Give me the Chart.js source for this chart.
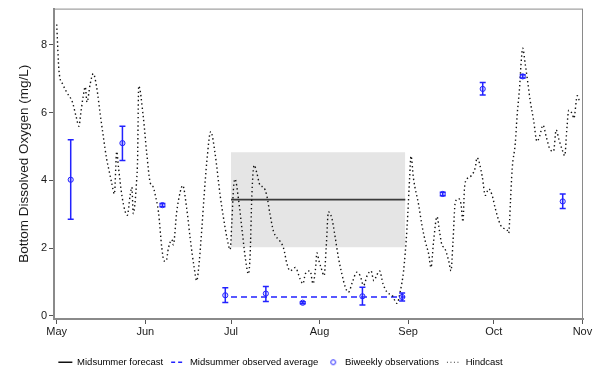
<!DOCTYPE html>
<html>
<head>
<meta charset="utf-8">
<script src="https://cdn.jsdelivr.net/npm/chart.js@4.4.0/dist/chart.umd.min.js"></script>
<style>
  html, body { margin: 0; padding: 0; background: #fff; }
</style>
</head>
<body>
<canvas id="grafico" width="600" height="374"></canvas>
<script>
// Days counted from May 1
const monthTicks = [0, 31, 61, 92, 123, 153, 184];
const monthLabels = ['May', 'Jun', 'Jul', 'Aug', 'Sep', 'Oct', 'Nov'];
const yTicks = [0, 2, 4, 6, 8];

// Hindcast (dotted line)
const hindcastDays = [0, 0.8, 2.1, 3.5, 5.5, 6.8, 7.8, 8.4, 9.3, 10, 10.6, 11.7, 12.8, 14, 15.2, 16.3, 17.5, 18.3, 19.3, 20.2,
  21, 21.6, 22.8, 24, 24.7, 25.7, 26.3, 26.8, 28, 28.3, 28.7, 30.3, 31.5, 32.7, 33.8, 34.4, 35.6, 36.8, 37.6, 38.3,
  39.1, 40.3, 40.8, 42, 43.2, 44.1, 45.5, 46.7, 48.1, 49, 49.9, 50.8, 51.6, 52.5, 53.9, 55.4, 57.2, 58.4, 59.6, 60.7,
  61.3, 61.9, 62.4, 63.6, 64.8, 66, 67.1, 67.7, 68.3, 69.1, 70, 71.2, 72.4, 73.5, 74.7, 75.9, 78.2, 79.4, 80.6, 81.7,
  83.5, 85.2, 86.2, 87, 88.7, 89.7, 90.5, 91.1, 91.8, 92.5, 93.6, 94.3, 95.1, 96.3, 97.5, 98.6, 99.8, 101, 102.1, 103.5,
  105, 106.2, 107.4, 108.7, 110, 111, 112, 113, 114.2, 115.6, 117.4, 119.1, 120.3, 121.4, 122.6, 123.5, 124, 124.9, 126.7, 127.8,
  129, 130.2, 131, 131.9, 133.1, 134, 134.8, 135.8, 137.2, 138, 138.7, 139.5, 140.7, 141.5, 142.2, 142.7, 143.6, 145, 146.5, 147.1,
  148.9, 150, 151.2, 152.4, 153.5, 155.3, 156.4, 157.6, 158.2, 158.8, 159.4, 160.5, 161.1, 162, 162.5, 163.1, 164, 164.8, 165.7, 166.9,
  168.1, 169, 170.2, 171.3, 172.7, 173.9, 174.8, 175.8, 176.9, 177.8, 178.6, 179.2, 180.4, 181, 182.2, 182.9];
const hindcastVals = [8.6, 7.23, 6.84, 6.6, 6.31, 5.88, 5.6, 5.97, 6.5, 6.76, 6.31, 6.84, 7.15, 6.74, 5.97, 5.3, 4.62, 4.3, 3.9, 3.6,
  4.85, 4.4, 3.56, 3.07, 2.97, 3.56, 3.8, 3.02, 4.04, 4.6, 6.79, 5.87, 4.81, 3.94, 3.8, 3.6, 3.07, 2.0, 1.62, 1.62,
  2.0, 2.25, 2.1, 3.07, 3.65, 3.85, 3.17, 2.3, 1.43, 1.04, 1.62, 2.59, 3.56, 4.52, 5.44, 4.81, 3.56, 2.88, 2.3, 1.96,
  2.78, 3.8, 4.04, 3.46, 2.59, 1.72, 1.24, 1.81, 3.56, 4.45, 4.23, 3.85, 3.8, 3.56, 2.98, 2.49, 2.2, 2.0, 1.53, 1.33,
  1.43, 1.09, 0.95, 1.24, 1.33, 0.95, 1.33, 1.86, 1.62, 1.43, 1.19, 2.0, 3.07, 2.88, 2.3, 1.72, 1.24, 0.85, 0.7, 1.0,
  1.29, 1.19, 0.9, 1.2, 1.33, 1.04, 1.2, 1.33, 0.95, 0.7, 0.61, 0.37, 0.75, 1.33, 2.59, 4.04, 4.72, 4.04, 3.27, 2.69,
  2.2, 1.82, 1.43, 2.2, 2.93, 2.49, 2.1, 2.0, 1.62, 1.33, 2.2, 3.36, 3.46, 3.3, 2.78, 3.75, 4.04, 4.13, 4.38, 4.67,
  4.13, 3.56, 3.75, 3.56, 3.17, 2.69, 2.59, 2.54, 2.44, 3.36, 4.33, 5.1, 5.87, 6.74, 7.42, 7.9, 7.42, 6.94, 6.36, 5.78,
  5.15, 5.3, 5.63, 5.3, 4.91, 4.86, 5.49, 5.2, 4.91, 4.73, 5.58, 6.07, 5.97, 5.83, 6.5, 6.36];

// Biweekly observations with error bars
const obsDays = [4.9, 23, 37, 59, 73.2, 86.1, 107, 120.9, 135.1, 149.1, 163.1, 177.1];
const obsMean = [4.02, 5.1, 3.27, 0.61, 0.66, 0.39, 0.58, 0.56, 3.6, 6.7, 7.07, 3.38];
const obsLow = [2.85, 4.59, 3.22, 0.40, 0.43, 0.36, 0.32, 0.44, 3.55, 6.52, 7.02, 3.17];
const obsHigh = [5.2, 5.6, 3.32, 0.83, 0.87, 0.42, 0.85, 0.68, 3.65, 6.89, 7.12, 3.6];

// Midsummer forecast and observed average (Jul 1 - Aug 31)
const midsummerDays = [61, 122];
const forecastMean = [3.43, 3.43];
const forecastLow = [2.03, 2.03];
const forecastHigh = [4.83, 4.83];
const observedAverage = [0.56, 0.56];

const azul = '#2222ff';

function puntos(dias, valores) {
  return dias.map((d, i) => ({ x: d, y: valores[i] }));
}

// small circle used as legend symbol
const circuloLeyenda = document.createElement('canvas');
circuloLeyenda.width = 8;
circuloLeyenda.height = 8;
const cc = circuloLeyenda.getContext('2d');
cc.strokeStyle = azul;
cc.lineWidth = 1;
cc.beginPath();
cc.arc(4, 4, 2.4, 0, 2 * Math.PI);
cc.stroke();

// error bars drawn from the scales
const barrasError = {
  id: 'barrasError',
  afterDatasetsDraw(chart) {
    const { ctx, scales: { x, y } } = chart;
    ctx.save();
    ctx.strokeStyle = azul;
    ctx.lineWidth = 1.5;
    obsDays.forEach((d, i) => {
      const px = x.getPixelForValue(d);
      const arriba = y.getPixelForValue(obsHigh[i]);
      const abajo = y.getPixelForValue(obsLow[i]);
      ctx.beginPath();
      ctx.moveTo(px, arriba); ctx.lineTo(px, abajo);
      ctx.moveTo(px - 3, arriba); ctx.lineTo(px + 3, arriba);
      ctx.moveTo(px - 3, abajo); ctx.lineTo(px + 3, abajo);
      ctx.stroke();
    });
    ctx.restore();
  }
};

// frame round the plot area, and legend shift
const marco = {
  id: 'marco',
  beforeDraw(chart) {
    chart.legend.left -= 11;
    chart.legend.right -= 11;
    chart.legend.top += 3;
  },
  afterDraw(chart) {
    const { ctx, chartArea: a } = chart;
    ctx.save();
    ctx.strokeStyle = '#8a8a8a';
    ctx.lineWidth = 1;
    ctx.strokeRect(a.left, a.top + 0.5, a.right - a.left - 0.5, a.bottom - a.top);
    ctx.restore();
    chart.legend.left += 11;
    chart.legend.right += 11;
    chart.legend.top -= 3;
  }
};

new Chart(document.getElementById('grafico'), {
  type: 'line',
  data: {
    datasets: [
      {
        label: 'band high', data: puntos(midsummerDays, forecastHigh),
        borderWidth: 0, pointRadius: 0, fill: '+1', backgroundColor: '#e5e5e5', order: 10
      },
      {
        label: 'band low', data: puntos(midsummerDays, forecastLow),
        borderWidth: 0, pointRadius: 0, fill: false, order: 11
      },
      {
        label: 'Midsummer forecast', data: puntos(midsummerDays, forecastMean),
        borderColor: '#3a3a3a', borderWidth: 1.8, pointRadius: 0, fill: false, order: 5
      },
      {
        label: 'Midsummer observed average', data: puntos(midsummerDays, observedAverage),
        borderColor: azul, borderWidth: 1.5, borderDash: [6, 4], pointRadius: 0, fill: false, order: 4
      },
      {
        label: 'Hindcast', data: puntos(hindcastDays, hindcastVals),
        borderColor: '#111', borderWidth: 1.4, borderDash: [1.4, 2.8], pointRadius: 0,
        cubicInterpolationMode: 'monotone', fill: false, order: 3
      },
      {
        label: 'Biweekly observations', data: puntos(obsDays, obsMean),
        showLine: false, pointRadius: 2.6, pointBorderWidth: 1, pointBorderColor: azul,
        pointBackgroundColor: 'rgba(80,80,255,0.2)', order: 1
      }
    ]
  },
  options: {
    responsive: false,
    animation: false,
    layout: { padding: { top: 3, right: 17, left: 0, bottom: 0 } },
    plugins: {
      tooltip: { enabled: false },
      legend: {
        position: 'bottom',
        labels: {
          usePointStyle: true,
          pointStyleWidth: 14,
          padding: 8,
          color: '#1a1a1a',
          font: { family: 'Liberation Sans, Arial, sans-serif', size: 9.5 },
          generateLabels: () => [
            { text: 'Midsummer forecast', pointStyle: 'line', strokeStyle: '#111', lineWidth: 1.5, lineDash: [], datasetIndex: 2 },
            { text: 'Midsummer observed average', pointStyle: 'line', strokeStyle: azul, lineWidth: 1.5, lineDash: [4, 3], datasetIndex: 3 },
            { text: 'Biweekly observations', pointStyle: circuloLeyenda, strokeStyle: azul, lineWidth: 1, lineDash: [], datasetIndex: 5 },
            { text: 'Hindcast', pointStyle: 'line', strokeStyle: '#333', lineWidth: 1, lineDash: [1, 2.5], datasetIndex: 4 }
          ]
        }
      }
    },
    scales: {
      x: {
        type: 'linear',
        min: -0.95,
        max: 184.2,
        afterBuildTicks: (scale) => { scale.ticks = monthTicks.map(v => ({ value: v })); },
        afterFit: (scale) => { scale.height = 55 - scale.chart.legend.height; },
        ticks: {
          autoSkip: false, maxRotation: 0, padding: 1, color: '#1a1a1a',
          font: { family: 'Liberation Sans, Arial, sans-serif', size: 11 },
          callback: (v) => { const i = monthTicks.indexOf(v); return i >= 0 ? monthLabels[i] : ''; }
        },
        grid: { drawOnChartArea: false, drawTicks: true, tickLength: 5, color: '#555' },
        border: { color: '#8a8a8a', width: 2 }
      },
      y: {
        min: -0.09,
        max: 9.07,
        afterBuildTicks: (scale) => { scale.ticks = yTicks.map(v => ({ value: v })); },
        afterFit: (scale) => { scale.width = 54; },
        ticks: {
          padding: 2, color: '#1a1a1a',
          font: { family: 'Liberation Sans, Arial, sans-serif', size: 11 }
        },
        grid: { drawOnChartArea: false, drawTicks: true, tickLength: 5, color: '#555' },
        border: { color: '#8a8a8a', width: 2 },
        title: {
          display: true,
          text: 'Bottom Dissolved Oxygen (mg/L)',
          color: '#1a1a1a',
          padding: { top: 16, bottom: 0 },
          font: { family: 'Liberation Sans, Arial, sans-serif', size: 13.5 }
        }
      }
    }
  },
  plugins: [barrasError, marco]
});
</script>
</body>
</html>
